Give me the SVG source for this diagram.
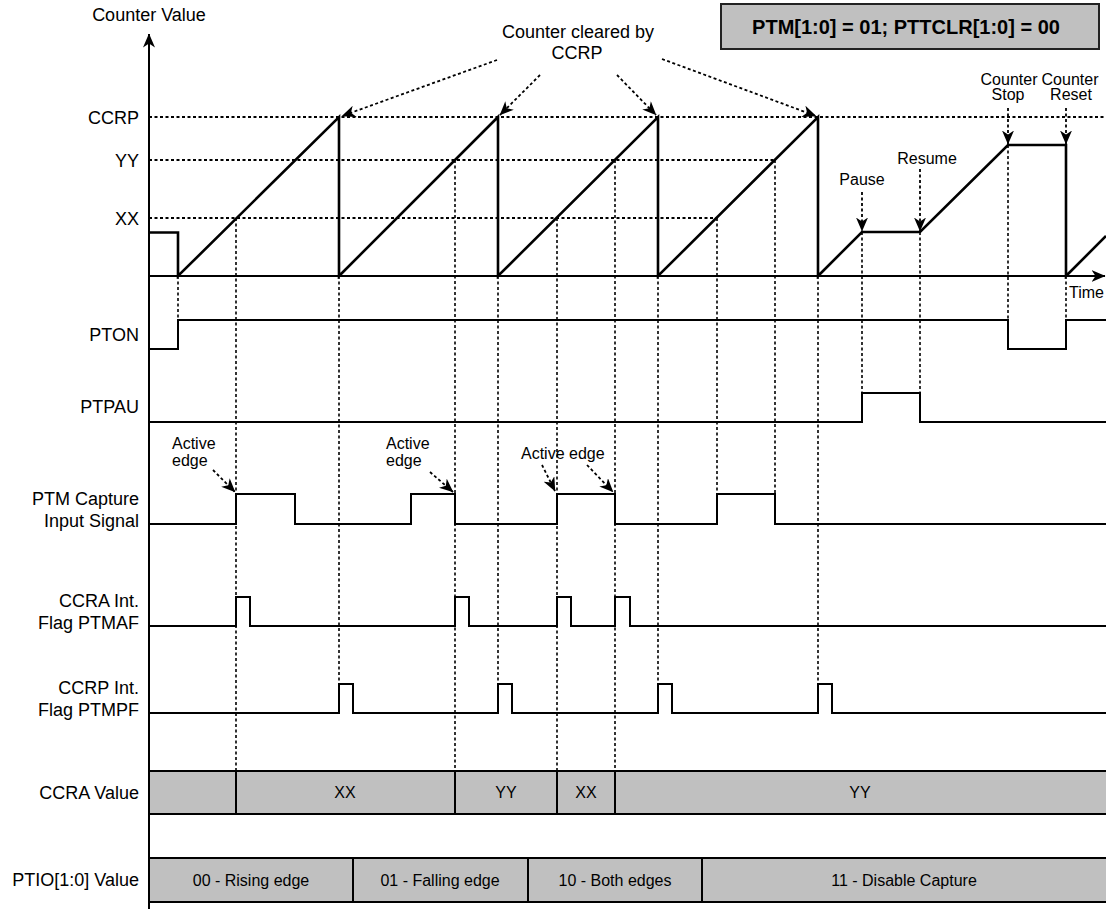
<svg xmlns="http://www.w3.org/2000/svg" width="1106" height="909" viewBox="0 0 1106 909">
<style>
text{font-family:"Liberation Sans",Arial,sans-serif;fill:#000}
.lbl{font-size:18px;text-anchor:end}
.ann{font-size:16px}
.mid{text-anchor:middle}
.bar{font-size:16px;text-anchor:middle}
.wave{fill:none;stroke:#000;stroke-width:2;stroke-linejoin:miter}
.ramp{fill:none;stroke:#000;stroke-width:2.6;stroke-linejoin:miter}
.hdot{fill:none;stroke:#000;stroke-width:2;stroke-dasharray:3 2.5}
.vdot{fill:none;stroke:#000;stroke-width:1.6;stroke-dasharray:3 2.5}
.adot{fill:none;stroke:#000;stroke-width:1.8;stroke-dasharray:3 2.5}
.cell{fill:#c0c0c0;stroke:#000;stroke-width:2}
.div{stroke:#000;stroke-width:2}
.axis{fill:none;stroke:#000;stroke-width:2}
</style>
<defs>
<marker id="arr" viewBox="0 0 14 12" refX="13.5" refY="6" markerWidth="14" markerHeight="12" markerUnits="userSpaceOnUse" orient="auto">
<path d="M0,0 L14,6 L0,12 L4,6 Z" fill="#000"/>
</marker>
</defs>
<rect width="1106" height="909" fill="#fff"/>

<g id="header">
<rect x="721" y="4" width="378" height="45" fill="#c0c0c0" stroke="#222" stroke-width="2"/>
<text x="906" y="34" class="mid" style="font-size:20px;font-weight:bold">PTM[1:0] = 01; PTTCLR[1:0] = 00</text>
</g>

<g id="guides">
<line class="hdot" x1="149" y1="117" x2="1106" y2="117"/>
<line class="hdot" x1="149" y1="160" x2="775" y2="160"/>
<line class="hdot" x1="149" y1="218" x2="717" y2="218"/>
<line class="vdot" x1="178" y1="276" x2="178" y2="320"/>
<line class="vdot" x1="236" y1="218" x2="236" y2="771"/>
<line class="vdot" x1="339" y1="276" x2="339" y2="684"/>
<line class="vdot" x1="455" y1="160" x2="455" y2="771"/>
<line class="vdot" x1="498" y1="276" x2="498" y2="684"/>
<line class="vdot" x1="557" y1="218" x2="557" y2="771"/>
<line class="vdot" x1="615" y1="160" x2="615" y2="771"/>
<line class="vdot" x1="658" y1="276" x2="658" y2="684"/>
<line class="vdot" x1="717" y1="218" x2="717" y2="494"/>
<line class="vdot" x1="775" y1="160" x2="775" y2="494"/>
<line class="vdot" x1="818" y1="276" x2="818" y2="684"/>
<line class="vdot" x1="862" y1="232" x2="862" y2="393"/>
<line class="vdot" x1="920" y1="232" x2="920" y2="393"/>
<line class="vdot" x1="1008" y1="145" x2="1008" y2="320"/>
<line class="vdot" x1="1066" y1="276" x2="1066" y2="320"/>
</g>

<g id="axes">
<line class="axis" x1="149" y1="909" x2="149" y2="34" marker-end="url(#arr)"/>
<line class="axis" x1="149" y1="276" x2="1105" y2="276" marker-end="url(#arr)"/>
<text x="149" y="21" class="mid" style="font-size:18px">Counter Value</text>
<text x="1069" y="298" class="ann">Time</text>
</g>

<g id="counter">
<path class="ramp" d="M149,232.5 H178 V276 L339,117 V276 L498,117 V276 L658,117 V276 L818,117 V276 L862,232 H920 L1008,145 H1066 V276 L1106,236"/>
<text x="139" y="123.5" class="lbl">CCRP</text>
<text x="139" y="166.5" class="lbl">YY</text>
<text x="139" y="225" class="lbl">XX</text>
</g>

<g id="pton">
<path class="wave" d="M149,349 H178 V320 H1008 V349 H1066 V320 H1106"/>
<text x="139" y="341" class="lbl">PTON</text>
</g>

<g id="ptpau">
<path class="wave" d="M149,422 H862 V393 H920 V422 H1106"/>
<text x="139" y="413" class="lbl">PTPAU</text>
</g>

<g id="capture">
<path class="wave" d="M149,524 H236 V494 H295 V524 H411 V494 H455 V524 H557 V494 H615 V524 H717 V494 H775 V524 H1106"/>
<text x="139" y="505" class="lbl">PTM Capture</text>
<text x="139" y="527" class="lbl">Input Signal</text>
</g>

<g id="ccra-flag">
<path class="wave" d="M149,626 H236 V597 H250 V626 H455 V597 H469 V626 H557 V597 H571 V626 H615 V597 H630 V626 H1106"/>
<text x="139" y="607" class="lbl">CCRA Int.</text>
<text x="139" y="629" class="lbl">Flag PTMAF</text>
</g>

<g id="ccrp-flag">
<path class="wave" d="M149,713 H339 V684 H353 V713 H498 V684 H512 V713 H658 V684 H672 V713 H818 V684 H832 V713 H1106"/>
<text x="139" y="694" class="lbl">CCRP Int.</text>
<text x="139" y="716" class="lbl">Flag PTMPF</text>
</g>

<g id="ccra-value">
<rect class="cell" x="149" y="771" width="960" height="43"/>
<line class="div" x1="236" y1="771" x2="236" y2="814"/>
<line class="div" x1="455" y1="771" x2="455" y2="814"/>
<line class="div" x1="557" y1="771" x2="557" y2="814"/>
<line class="div" x1="615" y1="771" x2="615" y2="814"/>
<text x="345" y="797.5" class="bar">XX</text>
<text x="506" y="797.5" class="bar">YY</text>
<text x="586" y="797.5" class="bar">XX</text>
<text x="860" y="797.5" class="bar">YY</text>
<text x="139" y="798.5" class="lbl">CCRA Value</text>
</g>

<g id="ptio-value">
<rect class="cell" x="149" y="858" width="960" height="44"/>
<line class="div" x1="353" y1="858" x2="353" y2="902"/>
<line class="div" x1="528" y1="858" x2="528" y2="902"/>
<line class="div" x1="702" y1="858" x2="702" y2="902"/>
<text x="251" y="885.5" class="bar">00 - Rising edge</text>
<text x="440" y="885.5" class="bar">01 - Falling edge</text>
<text x="615" y="885.5" class="bar">10 - Both edges</text>
<text x="904" y="885.5" class="bar">11 - Disable Capture</text>
<text x="139" y="886" class="lbl">PTIO[1:0] Value</text>
</g>

<g id="annotations">
<text x="578" y="38" class="mid" style="font-size:18px">Counter cleared by</text>
<text x="577" y="59" class="mid" style="font-size:18px">CCRP</text>
<text x="862" y="185" class="ann mid">Pause</text>
<text x="927" y="163.5" class="ann mid">Resume</text>
<text x="1009" y="85" class="ann mid">Counter</text>
<text x="1008" y="100" class="ann mid">Stop</text>
<text x="1070" y="85" class="ann mid">Counter</text>
<text x="1071" y="100" class="ann mid">Reset</text>
<text x="172" y="449" class="ann">Active</text>
<text x="172" y="466" class="ann">edge</text>
<text x="386" y="449" class="ann">Active</text>
<text x="386" y="466" class="ann">edge</text>
<text x="521" y="459" class="ann">Active edge</text>
</g>

<g id="connectors">
<line class="adot" x1="497" y1="60" x2="342" y2="116" marker-end="url(#arr)"/>
<line class="adot" x1="540" y1="75" x2="500" y2="115" marker-end="url(#arr)"/>
<line class="adot" x1="617" y1="75" x2="656" y2="115" marker-end="url(#arr)"/>
<line class="adot" x1="662" y1="59" x2="816" y2="116" marker-end="url(#arr)"/>
<line class="adot" x1="862" y1="192" x2="862" y2="231" marker-end="url(#arr)"/>
<line class="adot" x1="920" y1="169" x2="920" y2="231" marker-end="url(#arr)"/>
<line class="adot" x1="1008" y1="108" x2="1008" y2="144" marker-end="url(#arr)"/>
<line class="adot" x1="1066" y1="108" x2="1066" y2="144" marker-end="url(#arr)"/>
<line class="adot" x1="213" y1="470" x2="235" y2="492" marker-end="url(#arr)"/>
<line class="adot" x1="430" y1="472" x2="453" y2="492" marker-end="url(#arr)"/>
<line class="adot" x1="542" y1="465" x2="555" y2="491" marker-end="url(#arr)"/>
<line class="adot" x1="587" y1="465" x2="613" y2="492" marker-end="url(#arr)"/>
</g>
</svg>
